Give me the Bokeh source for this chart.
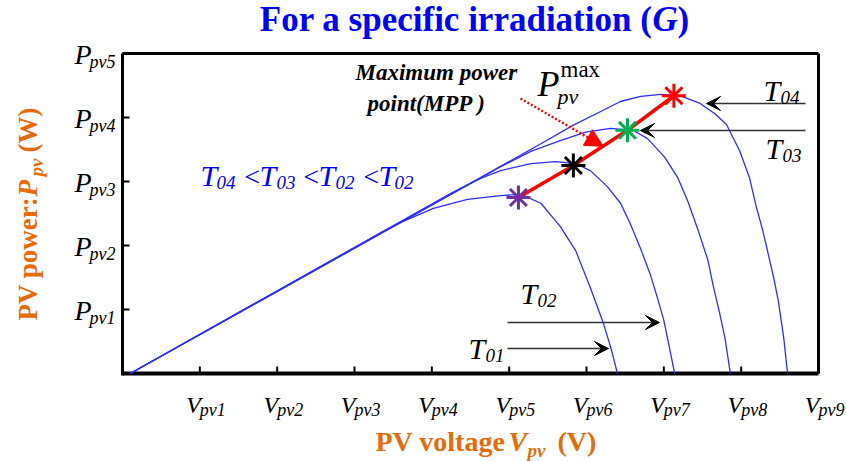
import math
from bokeh.plotting import figure
from bokeh.models import Range1d, Label, Arrow, VeeHead, NormalHead
from bokeh.embed import file_html
from bokeh.resources import INLINE

# ---------------- data ----------------
v_ticks = [1, 2, 3, 4, 5, 6, 7, 8, 9]
v_tick_sub = ["pv1", "pv2", "pv3", "pv4", "pv5", "pv6", "pv7", "pv8", "pv9"]
p_ticks = [1, 2, 3, 4, 5]
p_tick_sub = ["pv1", "pv2", "pv3", "pv4", "pv5"]

T01_v = [0.10, 3.34, 3.60, 4.02, 4.46, 4.89, 5.15, 5.41, 5.66, 5.86, 6.05, 6.22, 6.32, 6.40]
T01_p = [0.00, 2.20, 2.36, 2.58, 2.72, 2.78, 2.80, 2.66, 2.30, 1.92, 1.34, 0.78, 0.38, 0.00]

T02_v = [0.10, 4.24, 4.63, 4.89, 5.28, 5.60, 5.86, 6.05, 6.27, 6.44, 6.57, 6.70, 6.83, 6.92, 7.00, 7.06, 7.14]
T02_p = [0.00, 2.81, 3.05, 3.17, 3.28, 3.31, 3.28, 3.17, 2.92, 2.66, 2.33, 1.95, 1.53, 1.17, 0.83, 0.48, 0.00]

T03_v = [0.10, 4.89, 5.28, 5.66, 5.99, 6.31, 6.60, 6.79, 7.01, 7.18, 7.31, 7.44, 7.57, 7.64, 7.72, 7.79, 7.86]
T03_p = [0.00, 3.23, 3.47, 3.64, 3.77, 3.83, 3.80, 3.67, 3.38, 3.06, 2.69, 2.25, 1.77, 1.36, 0.95, 0.56, 0.00]

T04_v = [0.10, 5.41, 5.83, 6.21, 6.44, 6.70, 6.96, 7.23, 7.47, 7.66, 7.81, 7.98, 8.11, 8.19, 8.28, 8.34, 8.42, 8.48, 8.55, 8.60]
T04_p = [0.00, 3.59, 3.88, 4.11, 4.25, 4.33, 4.36, 4.33, 4.22, 4.06, 3.89, 3.48, 3.05, 2.63, 2.23, 1.92, 1.50, 1.14, 0.56, 0.00]

mpp_v = [5.12, 5.83, 6.53, 7.13]
mpp_p = [2.75, 3.25, 3.80, 4.34]
mpp_colors = ["#7030A0", "#000000", "#00B050", "#FF0000"]

# ---------------- layout ----------------
W, H = 846, 461
L, R, T, B = 122, 28, 53, 88          # plot box inside the canvas
XMAX, YMAX = 9, 5
sx = (W - L - R) / XMAX
sy = (H - T - B) / YMAX


def X(px):
    return (px - L) / sx


def Y(py):
    return (H - B - py) / sy


p = figure(width=W, height=H, output_backend="svg", toolbar_location=None,
           x_range=Range1d(X(0), X(W)), y_range=Range1d(Y(H), Y(0)),
           x_axis_location=None, y_axis_location=None,
           min_border=0, min_border_left=0, min_border_right=0,
           min_border_top=0, min_border_bottom=0)
p.grid.visible = False
p.outline_line_color = None
p.background_fill_color = "white"
p.border_fill_color = "white"

# axes box and inner ticks, drawn through the scales
p.segment(x0=[0, 0, XMAX], y0=[-2 / sy, YMAX, YMAX], x1=[0, XMAX, XMAX], y1=[YMAX, YMAX, 0],
          line_color="black", line_width=3)
p.segment(x0=[0], y0=[0], x1=[XMAX], y1=[0], line_color="black", line_width=4)
p.segment(x0=v_ticks, y0=[0] * len(v_ticks), x1=v_ticks, y1=[7 / sy] * len(v_ticks),
          line_color="black", line_width=2)
p.segment(x0=[0] * len(p_ticks), y0=p_ticks, x1=[7 / sx] * len(p_ticks), y1=p_ticks,
          line_color="black", line_width=2)

SERIF = "Liberation Serif"
ORANGE = "#E46C0A"
BLUE = "#0000FF"


def lab(px, py, text, size, style="normal", color="black", align="left", angle=0.0):
    """px, py: left/right edge and baseline of the text in canvas pixels."""
    if angle:
        cx, cy = px - 0.33 * size, py
    else:
        cx, cy = px, py - 0.33 * size
    p.add_layout(Label(x=X(cx), y=Y(cy), text=text, text_font=SERIF,
                       text_font_size=f"{size}px", text_font_style=style,
                       text_color=color, text_align=align, text_baseline="middle",
                       angle=angle))


# curves
for vv, pp in ((T01_v, T01_p), (T02_v, T02_p), (T03_v, T03_p), (T04_v, T04_p)):
    p.line(vv, pp, line_color="#2E2EFF", line_width=1.3)

# MPP line and markers
p.line(mpp_v, mpp_p, line_color="#FF0000", line_width=3.5)
p.scatter(mpp_v, mpp_p, marker="asterisk", size=24, line_color=mpp_colors,
          line_width=3)

# arrows
p.add_layout(Arrow(x_start=X(520), y_start=Y(98), x_end=X(603), y_end=Y(146),
                   line_color="#FF0000", line_width=2.5, line_dash="2 2",
                   end=NormalHead(size=18, fill_color="#FF0000", line_color="#FF0000")))
for xs, ys, xe, ye in ((805, 103, 706, 103), (805, 130, 640, 130),
                       (507, 322, 659, 322), (507, 348, 608, 348)):
    p.add_layout(Arrow(x_start=X(xs), y_start=Y(ys), x_end=X(xe), y_end=Y(ye),
                       line_color="#333333", line_width=1.3,
                       end=VeeHead(size=14, fill_color="black", line_color="black",
                                   line_width=1)))

# tick labels
for v, sub in zip(v_ticks, v_tick_sub):
    px = L + v * sx
    lab(px + 1, 412, "V", 24, "italic", align="right")
    lab(px, 415, sub, 18, "italic")
for k, sub in zip(p_ticks, p_tick_sub):
    py = H - B - k * sy
    lab(91, py + 10, "P", 28, "italic", align="right")
    lab(89, py + 14, sub, 18, "italic")

# title
lab(652, 31, "For a specific irradiation (", 35, "bold", BLUE, align="right")
lab(652, 31, "G", 35, "bold italic", BLUE)
lab(677, 31, ")", 35, "bold", BLUE)

# axis labels
lab(375, 450, "PV voltage", 28, "bold", ORANGE)
lab(508, 450, "V", 28, "bold italic", ORANGE)
lab(527, 456, "pv", 19, "bold italic", ORANGE)
lab(557, 450, "(V)", 28, "bold", ORANGE)

half = math.pi / 2
lab(36, 320, "PV power:", 27, "bold", ORANGE, angle=half)
lab(36, 196, "P", 27, "bold italic", ORANGE, angle=half)
lab(42, 176, "pv", 19, "bold italic", ORANGE, angle=half)
lab(36, 152, "(W)", 27, "bold", ORANGE, angle=half)

# annotations
lab(355, 80, "Maximum power", 23, "bold italic")
lab(367, 111, "point(MPP )", 23, "bold italic")
lab(537, 95, "P", 36, "italic")
lab(560, 77, "max", 23)
lab(557, 103, "pv", 22, "italic")

for tx, ty, sub in ((763, 100, "04"), (765, 158, "03"), (520, 303, "02"), (468, 358, "01")):
    lab(tx, ty, "T", 30, "italic")
    lab(tx + 17, ty + 3, sub, 19, "italic")

# blue inequality
for tx in (200, 259, 318, 378):
    lab(tx, 185, "T", 30, "italic", BLUE)
for tx, sub in ((216, "04"), (276, "03"), (335, "02"), (394, "02")):
    lab(tx, 188, sub, 19, "italic", BLUE)
for tx in (242, 301, 361):
    lab(tx, 185, "<", 28, "italic", BLUE)

open("out.html", "w").write(file_html(p, INLINE))
